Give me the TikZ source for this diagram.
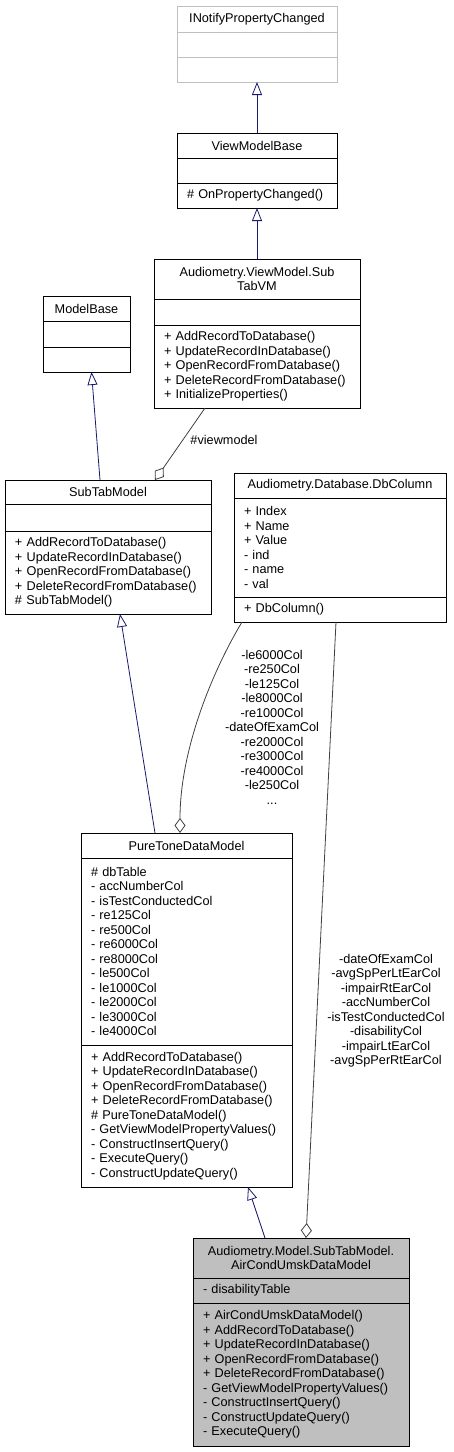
\documentclass[tikz,border=0pt]{standalone}
\usepackage{fontspec}
\setmainfont{Liberation Sans}
\usepackage{tikz}
\usetikzlibrary{arrows.meta,positioning}
\definecolor{edgeblue}{HTML}{191970}
\definecolor{edgegray}{HTML}{404040}
\definecolor{faint}{HTML}{BFBFBF}
\definecolor{focus}{HTML}{BFBFBF}
\tikzset{cls/.style={draw=black,line width=0.8pt,fill=white,inner sep=0pt,outer sep=0pt,font=\fontsize{12.7pt}{14.5pt}\selectfont},
  clsname/.style={cls,minimum width=#1,align=center},
  clspart/.style={cls,minimum width=#1,text width=#1-20pt,inner xsep=10pt,align=left},
  inh/.style={-{Triangle[open,length=13pt,width=10pt]},line width=0.8pt,draw=edgeblue},
  agg/.style={-{Diamond[open,length=15pt,width=11pt]},line width=0.8pt,draw=edgegray},
  rolelbl/.style={align=center,inner sep=0pt,font=\fontsize{12.7pt}{14.5pt}\selectfont}}

\begin{document}
\begin{tikzpicture}[x=1pt,y=-1pt]
\useasboundingbox (0,0) rectangle (453,1452);
\node[clsname=160,minimum height=26,draw=faint] (inpc) at (257,19) {INotifyPropertyChanged};
\node[clspart=160,minimum height=25,draw=faint,below=0pt of inpc] (inpcattr) {};
\node[clspart=160,minimum height=25,draw=faint,below=0pt of inpcattr] (inpcop) {};
\node[clsname=160,minimum height=25] (vmb) at (257,145.5) {ViewModelBase};
\node[clspart=160,minimum height=25,below=0pt of vmb] (vmbattr) {};
\node[clspart=160,minimum height=25,below=0pt of vmbattr] (vmbop) {\# OnPropertyChanged()};
\node[clsname=206,minimum height=40] (subvm) at (257,279) {Audiometry.ViewModel.Sub\\TabVM};
\node[clspart=206,minimum height=26,below=0pt of subvm] (subvmattr) {};
\node[clspart=206,minimum height=83,below=0pt of subvmattr] (subvmop) {+ AddRecordToDatabase()\\+ UpdateRecordInDatabase()\\+ OpenRecordFromDatabase()\\+ DeleteRecordFromDatabase()\\+ InitializeProperties()};
\node[clsname=87,minimum height=25] (mbase) at (86.5,308.5) {ModelBase};
\node[clspart=87,minimum height=26,below=0pt of mbase] (mbaseattr) {};
\node[clspart=87,minimum height=25,below=0pt of mbaseattr] (mbaseop) {};
\node[clsname=206,minimum height=24] (stm) at (108,492) {SubTabModel};
\node[clspart=206,minimum height=27,below=0pt of stm] (stmattr) {};
\node[clspart=206,minimum height=83,below=0pt of stmattr] (stmop) {+ AddRecordToDatabase()\\+ UpdateRecordInDatabase()\\+ OpenRecordFromDatabase()\\+ DeleteRecordFromDatabase()\\\# SubTabModel()};
\node[clsname=212,minimum height=25] (dbcol) at (340,485.5) {Audiometry.Database.DbColumn};
\node[clspart=212,minimum height=99,below=0pt of dbcol] (dbcolattr) {+ Index\\+ Name\\+ Value\\- ind\\- name\\- val};
\node[clspart=212,minimum height=25,below=0pt of dbcolattr] (dbcolop) {+ DbColumn()};
\node[clsname=211,minimum height=25] (ptdm) at (186.5,845.5) {PureToneDataModel};
\node[clspart=211,minimum height=187,below=0pt of ptdm] (ptdmattr) {\# dbTable\\- accNumberCol\\- isTestConductedCol\\- re125Col\\- re500Col\\- re6000Col\\- re8000Col\\- le500Col\\- le1000Col\\- le2000Col\\- le3000Col\\- le4000Col};
\node[clspart=211,minimum height=142,below=0pt of ptdmattr] (ptdmop) {+ AddRecordToDatabase()\\+ UpdateRecordInDatabase()\\+ OpenRecordFromDatabase()\\+ DeleteRecordFromDatabase()\\\# PureToneDataModel()\\- GetViewModelPropertyValues()\\- ConstructInsertQuery()\\- ExecuteQuery()\\- ConstructUpdateQuery()};
\node[clsname=216,minimum height=40,fill=focus] (acum) at (301,1258) {Audiometry.Model.SubTabModel.\\AirCondUmskDataModel};
\node[clspart=216,minimum height=25,fill=focus,below=0pt of acum] (acumattr) {- disabilityTable};
\node[clspart=216,minimum height=143,fill=focus,below=0pt of acumattr] (acumop) {+ AirCondUmskDataModel()\\+ AddRecordToDatabase()\\+ UpdateRecordInDatabase()\\+ OpenRecordFromDatabase()\\+ DeleteRecordFromDatabase()\\- GetViewModelPropertyValues()\\- ConstructInsertQuery()\\- ConstructUpdateQuery()\\- ExecuteQuery()};
\node[rolelbl] (vmrole) at (224,440) {\#viewmodel};
\node[rolelbl] (colrole) at (272,727) {-le6000Col\\-re250Col\\-le125Col\\-le8000Col\\-re1000Col\\-dateOfExamCol\\-re2000Col\\-re3000Col\\-re4000Col\\-le250Col\\...};
\node[rolelbl] (tblrole) at (386,1010.5) {-dateOfExamCol\\-avgSpPerLtEarCol\\-impairRtEarCol\\-accNumberCol\\-isTestConductedCol\\-disabilityCol\\-impairLtEarCol\\-avgSpPerRtEarCol};
\draw[inh] (vmb.north) -- (inpcop.south);
\draw[inh] (subvm.north) -- (vmbop.south);
\draw[inh] ([xshift=-8pt]stm.north) -- ([xshift=5pt]mbaseop.south);
\draw[inh] ([xshift=-31.5pt]ptdm.north) -- ([xshift=12pt]stmop.south);
\draw[inh] ([xshift=-36pt]acum.north) -- ([xshift=61.5pt]ptdmop.south);
\draw[agg] ([xshift=-52pt]subvmop.south) -- ([xshift=47pt]stm.north);
\draw[agg] ([xshift=-98pt]dbcolop.south) .. controls +(-30,50) and +(0,-83) .. ([xshift=-6.5pt]ptdm.north);
\draw[agg] ([xshift=-4pt]dbcolop.south) -- ([xshift=5pt]acum.north);
\end{tikzpicture}
\end{document}
